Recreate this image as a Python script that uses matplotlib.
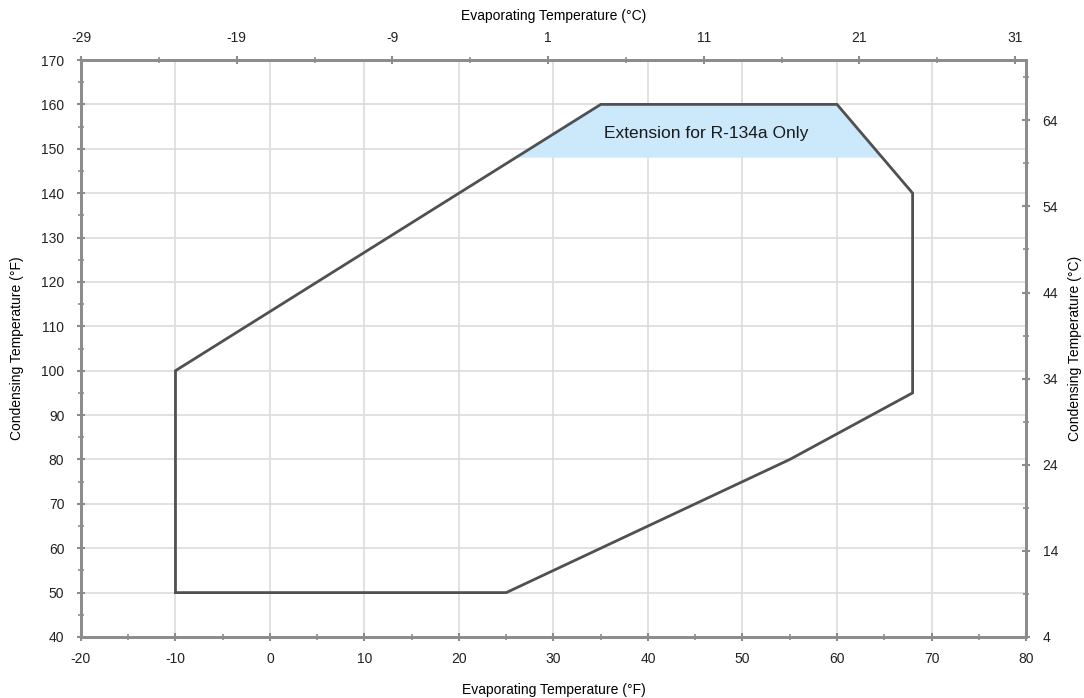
import matplotlib.pyplot as plt
from matplotlib.ticker import MultipleLocator, FixedLocator

# operating envelope, deg F (evaporating, condensing)
evap_f = [-10, -10, 35, 60, 68, 68, 55, 25, -10]
cond_f = [50, 100, 160, 160, 140, 95, 80, 50, 50]

# R-134a extension band
ext_evap_f = [26, 35, 60, 64.8]
ext_cond_f = [148, 160, 160, 148]
ext_label = 'Extension for R-134a Only'

top_ticks_c = [-29, -19, -9, 1, 11, 21, 31]
right_ticks_c = [4, 14, 24, 34, 44, 54, 64]

plt.rcParams['font.family'] = ['Liberation Sans', 'DejaVu Sans']
plt.rcParams['axes.unicode_minus'] = False
spine_c = '#8c8c8c'
grid_c = '#dcdcdc'

fig = plt.figure(figsize=(10.84, 6.98), dpi=100)
ax = fig.add_axes([0.0747, 0.0874, 0.8718, 0.8266])

ax.fill(ext_evap_f, ext_cond_f, color='#cce8fb', lw=0, zorder=2)
ax.plot(evap_f, cond_f, color='#505050', lw=2, zorder=3, solid_joinstyle='miter')
ax.text(46.2, 153.5, ext_label, ha='center', va='center', fontsize=12.5, color='#1a1a1a', zorder=4)

ax.set_xlim(-20, 80)
ax.set_ylim(40, 170)
ax.xaxis.set_major_locator(MultipleLocator(10))
ax.xaxis.set_minor_locator(MultipleLocator(5))
ax.yaxis.set_major_locator(MultipleLocator(10))
ax.yaxis.set_minor_locator(MultipleLocator(5))
ax.grid(True, which='major', color=grid_c, lw=1.2, zorder=0)
ax.set_axisbelow(True)
ax.set_xlabel('Evaporating Temperature (°F)', fontsize=10, labelpad=12)
ax.set_ylabel('Condensing Temperature (°F)', fontsize=10)
ax.yaxis.label.set_va('center')
ax.yaxis.set_label_coords(-0.0677, 0.5)

# secondary axes in deg C
top = ax.twiny()
top.set_xlim(-29, 31.7)
top.xaxis.set_major_locator(FixedLocator(top_ticks_c))
top.xaxis.set_minor_locator(MultipleLocator(5, offset=1))
top.set_xlabel('Evaporating Temperature (°C)', fontsize=10, labelpad=8)

right = ax.twinx()
right.set_ylim(4, 71)
right.yaxis.set_major_locator(FixedLocator(right_ticks_c))
right.yaxis.set_minor_locator(MultipleLocator(5, offset=4))
right.set_ylabel('Condensing Temperature (°C)', fontsize=10)
right.yaxis.label.set_va('center')
right.yaxis.set_label_coords(1.052, 0.5)

for a in (ax, top, right):
    for s in a.spines.values():
        s.set_color(spine_c)
        s.set_linewidth(1.8)
    a.tick_params(which='both', direction='inout', color=spine_c, labelsize=10, labelcolor='#222222')
    a.tick_params(which='major', length=6, width=1.5, pad=8)
    a.tick_params(which='minor', length=4, width=1.2)
ax.tick_params(axis='y', pad=9)
right.tick_params(axis='y', pad=9)

fig.savefig('out.png', dpi=100)
